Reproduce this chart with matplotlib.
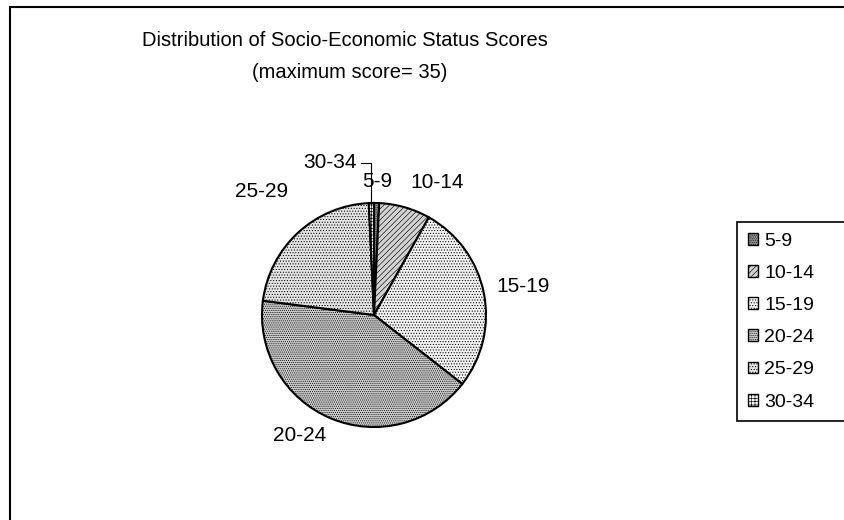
import numpy as np
import matplotlib
matplotlib.use("Agg")
import matplotlib.pyplot as plt
from matplotlib.patches import Rectangle

# score bands and number of respondents in each
categories = ["5-9", "10-14", "15-19", "20-24", "25-29", "30-34"]
counts = [1, 10, 37, 56, 30, 1]

title_lines = ["Distribution of Socio-Economic Status Scores", "(maximum score= 35)"]

# greyscale fills + hatch patterns, like the old office chart
face_colors = ["#9a9a9a", "#d4d4d4", "#f2f2f2", "#cbcbcb", "#e4e4e4", "#ffffff"]
hatches = [".........", "//////", "......", "........", "......", "+++++"]

# label centres in pie units (radius = 1)
label_pos = [(0.03, 1.19), (0.56, 1.18), (1.33, 0.25),
             (-0.66, -1.08), (-1.00, 1.10), (-0.39, 1.36)]


def main():
    plt.rcParams["font.family"] = ["Liberation Sans", "DejaVu Sans"]
    plt.rcParams["hatch.linewidth"] = 0.45

    W, H = 844, 520
    fig = plt.figure(figsize=(W / 100, H / 100), dpi=100)

    # outer chart border (right/bottom edges run off the image)
    fig.add_artist(Rectangle((10 / W, -0.1), 1.2, 1 - 7 / H + 0.1,
                             transform=fig.transFigure, fill=False,
                             edgecolor="black", linewidth=1.5))

    # pie centre (374, 315) px, radius 112 px
    cx, cy, r = 374, 315, 112
    ax = fig.add_axes([(cx - r) / W, (H - cy - r) / H, 2 * r / W, 2 * r / H])
    wedges, _ = ax.pie(counts, startangle=90, counterclock=False, radius=1,
                       colors=face_colors,
                       wedgeprops=dict(edgecolor="black", linewidth=1.5))
    for w, h in zip(wedges, hatches):
        w.set_hatch(h)
    ax.set_xlim(-1, 1)
    ax.set_ylim(-1, 1)
    ax.set_aspect("equal")
    ax.axis("off")

    for name, (x, y) in zip(categories, label_pos):
        ax.text(x, y, name, ha="center", va="center", fontsize=15, clip_on=False)

    # leader line for the thin 30-34 slice
    w = wedges[5]
    mid = np.deg2rad((w.theta1 + w.theta2) / 2)
    mx, my = np.cos(mid), np.sin(mid)
    ax.plot([-0.12, mx, mx], [1.36, 1.36, my], color="black", lw=0.8, clip_on=False)

    fig.text(345 / W, 1 - 40 / H, title_lines[0], ha="center", va="center", fontsize=14.5)
    fig.text(350 / W, 1 - 73 / H, title_lines[1], ha="center", va="center", fontsize=14.5)

    # legend box runs off the right edge, like the reference
    leg = fig.legend(wedges, categories, loc="upper left", mode="expand",
                     bbox_to_anchor=(737 / W, 1 - 420 / H, 130 / W, 198 / H),
                     borderaxespad=0, fontsize=14, frameon=True, fancybox=False,
                     framealpha=1, edgecolor="black", handlelength=0.55,
                     handleheight=0.55, handletextpad=0.3, labelspacing=0.78,
                     borderpad=0.55)
    leg.get_frame().set_linewidth(1.2)
    for p in leg.get_patches():
        p.set_linewidth(1.0)

    fig.savefig("out.png", dpi=100)


if __name__ == "__main__":
    main()
